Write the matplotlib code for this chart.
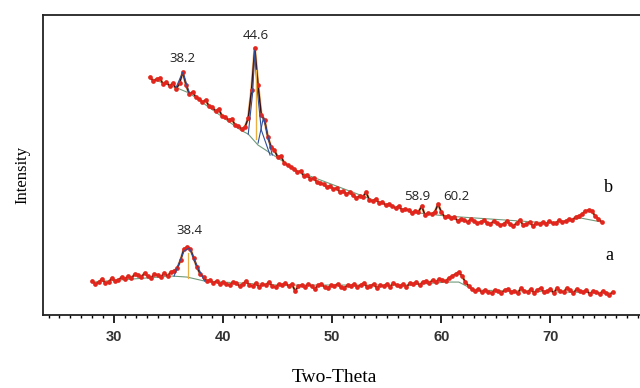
import numpy as np
import matplotlib.pyplot as plt
from matplotlib.ticker import MultipleLocator

# scan grids (2-theta, 0.3 deg steps)
two_theta_a = np.round(np.arange(28.0, 75.71, 0.3), 2)
two_theta_b = np.round(np.arange(33.3, 74.71, 0.3), 2)

# sample a (lower trace), intensity in arbitrary units
intensity_a = [
    34, 31, 33, 36, 32, 33, 37, 34, 35, 38, 36, 39, 37, 41, 40, 38, 42, 39, 37, 41,
    40, 38, 42, 39, 43, 44, 47, 55, 66, 68, 66, 57, 48, 41, 38, 34, 35, 32, 34, 31,
    33, 31, 30, 33, 32, 29, 31, 34, 30, 29, 32, 28, 31, 30, 33, 29, 28, 31, 30, 32,
    29, 31, 24, 29, 30, 28, 31, 29, 26, 30, 31, 28, 27, 30, 29, 31, 28, 27, 30, 29,
    31, 28, 30, 32, 28, 29, 31, 27, 30, 29, 31, 28, 32, 30, 29, 31, 28, 32, 31, 33,
    30, 33, 34, 32, 35, 33, 36, 35, 34, 37, 39, 41, 43, 39, 33, 29, 26, 24, 26, 23,
    25, 23, 22, 25, 24, 22, 25, 26, 23, 24, 22, 27, 24, 23, 26, 22, 25, 27, 23, 24,
    26, 22, 27, 24, 23, 27, 25, 22, 26, 24, 23, 25, 21, 24, 23, 21, 24, 22, 20, 23,
]

# sample b (upper trace)
intensity_b = [
    238, 234, 236, 237, 231, 233, 229, 232, 226, 232, 243, 230, 221, 223, 218, 216, 213, 215, 209, 208,
    204, 206, 199, 198, 195, 196, 190, 189, 186, 188, 197, 225, 267, 230, 200, 195, 178, 168, 165, 158,
    159, 152, 150, 148, 146, 143, 144, 139, 140, 136, 137, 133, 132, 131, 128, 129, 126, 127, 123, 124,
    121, 123, 120, 117, 119, 118, 123, 115, 114, 116, 112, 113, 110, 111, 109, 107, 109, 105, 106, 105,
    102, 104, 103, 109, 100, 102, 101, 103, 111, 103, 98, 99, 97, 98, 94, 96, 95, 93, 96, 94,
    92, 93, 95, 92, 91, 94, 92, 90, 91, 94, 91, 89, 92, 95, 90, 91, 93, 89, 92, 91,
    93, 91, 94, 92, 92, 95, 93, 94, 96, 95, 98, 99, 101, 104, 105, 104, 99, 96, 93,
]

# fitted backgrounds
bg_a_x = [28.0, 35.3, 36.7, 38.3, 45.0, 57.0, 60.5, 61.6, 63.0, 75.7]
bg_a_y = [33, 39, 38, 34, 30, 30, 33, 33, 25, 22]
bg_b_x = [33.3, 35.8, 36.9, 41.6, 42.3, 43.2, 44.6, 47.0, 55.0, 58.0, 60.5, 70.0, 72.8, 74.7]
bg_b_y = [237, 227, 222, 185, 181, 170, 160, 143, 110, 102, 99, 92, 97, 93]

# fitted peak components
fit_b1_x = [35.7, 36.3, 36.9]
fit_b1_y = [228, 243, 222]
fit_b2_x = [42.3, 42.7, 42.9, 43.1, 43.5, 44.3]
fit_b2_y = [181, 222, 265, 228, 185, 160]
fit_b3_x = [43.2, 43.7, 44.5]
fit_b3_y = [172, 198, 160]
fit_a1_x = [35.5, 36.4, 36.9, 37.5, 38.3]
fit_a1_y = [39, 64, 67, 52, 34]

peak_labels = ["38.2", "44.6", "58.9", "60.2", "38.4"]
peak_label_x = [36.3, 43.0, 57.8, 61.4, 36.9]
peak_label_y = [257, 280, 119, 119, 85]

fig = plt.figure(figsize=(6.4, 3.88), dpi=100)
ax = fig.add_axes([0.0667, 0.188, 0.94, 0.773])

for x, y, bx, by in [(two_theta_a, intensity_a, bg_a_x, bg_a_y),
                     (two_theta_b, intensity_b, bg_b_x, bg_b_y)]:
    ax.plot(bx, by, color="#6f9a7a", linewidth=0.8)
    ax.plot(x, y, color="#f0a050", linewidth=2.0, alpha=0.8)
    ax.plot(x, y, color="#3a1010", linewidth=1.1)
    ax.plot(x, y, "o", color="#e3261d", markersize=3.4, markeredgewidth=0)

for fx, fy in [(fit_b1_x, fit_b1_y), (fit_b2_x, fit_b2_y), (fit_b3_x, fit_b3_y), (fit_a1_x, fit_a1_y)]:
    ax.plot(fx, fy, color="#2f4f9a", linewidth=0.8)
ax.plot([43.05, 43.05], [176, 245], color="#e8b040", linewidth=1.0)
ax.plot([36.75, 36.75], [37, 62], color="#e8b040", linewidth=0.9)

for txt, tx, ty in zip(peak_labels, peak_label_x, peak_label_y):
    ax.text(tx, ty, txt, ha="center", va="center", fontsize=9.5,
            family="Open Sans", color="#222222")

ax.text(75.3, 128, "b", ha="center", va="center", fontsize=13, family="Liberation Serif")
ax.text(75.4, 60, "a", ha="center", va="center", fontsize=13, family="Liberation Serif")

ax.set_xlim(23.46, 78.6)
ax.set_ylim(0, 300)
ax.spines["right"].set_visible(False)
for s in ["left", "top", "bottom"]:
    ax.spines[s].set_linewidth(1.3)
    ax.spines[s].set_color("#222222")
ax.set_yticks([])
ax.xaxis.set_major_locator(MultipleLocator(10))
ax.xaxis.set_minor_locator(MultipleLocator(1))
ax.tick_params(axis="x", which="major", length=5.5, width=1.2, direction="out", pad=5,
               labelsize=10.5, labelcolor="#333333")
ax.tick_params(axis="x", which="minor", length=2.2, width=1.0, direction="out")
for lab in ax.get_xticklabels():
    lab.set_family("Liberation Sans")
    lab.set_fontweight("bold")

fig.text(334 / 640, 1 - 378 / 388, "Two-Theta", ha="center", va="center",
         fontsize=14, family="Liberation Serif")
fig.text(22 / 640, 1 - 175 / 388, "Intensity", ha="center", va="center",
         rotation=90, fontsize=12, family="Liberation Serif")

fig.savefig("out.png", dpi=100)
